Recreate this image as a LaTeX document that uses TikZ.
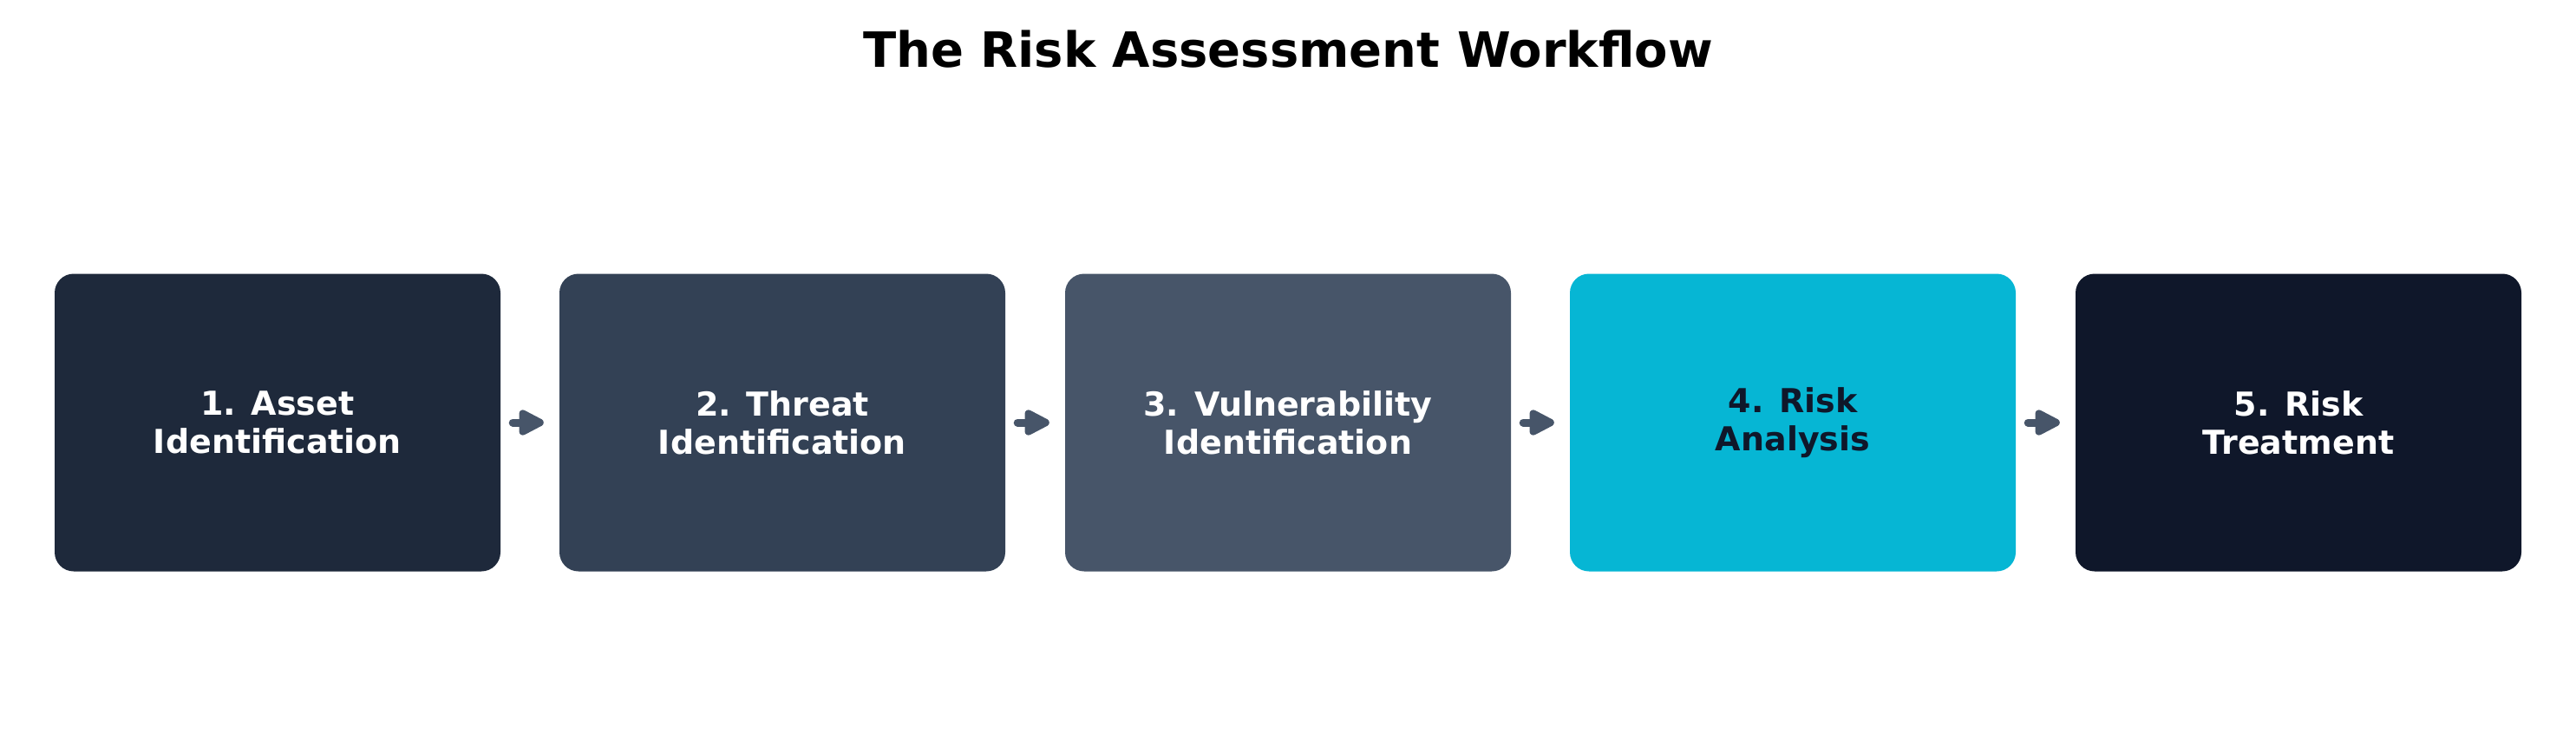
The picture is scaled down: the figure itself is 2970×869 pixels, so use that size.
\documentclass[tikz,border=0pt]{standalone}
\usepackage{fontspec}
\setmainfont{DejaVu Sans}
\usetikzlibrary{arrows.meta}
\definecolor{cA}{HTML}{1E293B}
\definecolor{cB}{HTML}{334155}
\definecolor{cC}{HTML}{475569}
\definecolor{cD}{HTML}{06B6D4}
\definecolor{cE}{HTML}{0F172A}
\begin{document}
\begin{tikzpicture}[x=1pt,y=1pt,
  stepbox/.style={rounded corners=22pt,minimum width=514pt,minimum height=343pt,align=center,font=\fontsize{38}{44}\selectfont\bfseries,text=white,inner sep=0pt},
  flow/.style={draw=cC,line width=9pt,line cap=round,-{Triangle[length=34pt,width=32pt,round]}}]
\useasboundingbox (0,0) rectangle (2970,-869);
\node[font=\fontsize{56}{64}\selectfont\bfseries] (t) at (1485,-57) {The Risk Assessment Workflow};
\node[stepbox,fill=cA] (b1) at (320,-487) {1. Asset\\Identification};
\node[stepbox,fill=cB] (b2) at (902,-487) {2. Threat\\Identification};
\node[stepbox,fill=cC] (b3) at (1485,-487) {3. Vulnerability\\Identification};
\node[stepbox,fill=cD,text=cE] (b4) at (2067,-487) {4. Risk\\Analysis};
\node[stepbox,fill=cE] (b5) at (2650,-487) {5. Risk\\Treatment};
\foreach \a/\b in {b1/b2,b2/b3,b3/b4,b4/b5}
  \draw[flow,shorten <=14pt,shorten >=18pt] (\a.east) -- (\b.west);
\end{tikzpicture}
\end{document}
